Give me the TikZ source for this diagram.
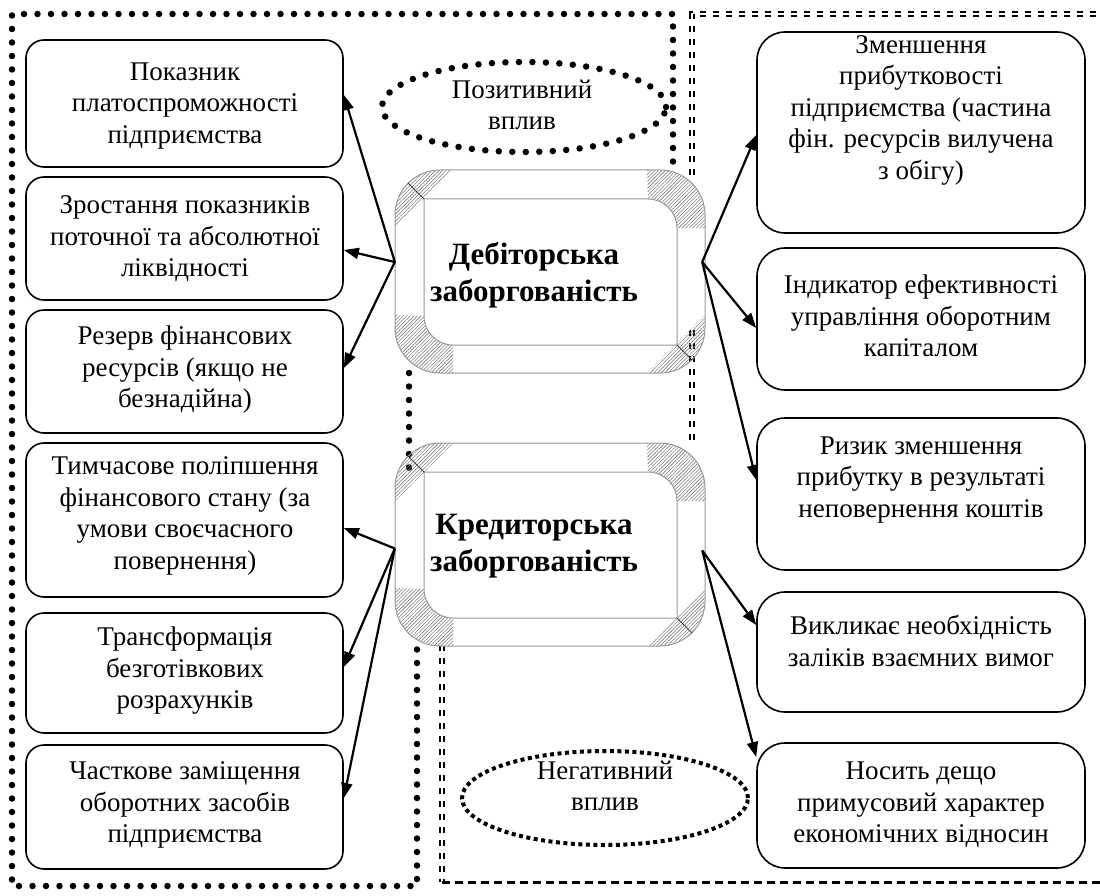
\documentclass[tikz,border=0pt]{standalone}
\usepackage{fontspec}
\setmainfont{Liberation Serif}
\usetikzlibrary{arrows.meta,patterns.meta,shapes.geometric}
\tikzset{
  lbox/.style={draw, line width=1.6pt, rounded corners=18pt, minimum width=317pt, inner sep=0pt},
  rbox/.style={draw, line width=1.6pt, rounded corners=28pt, minimum width=328pt, inner sep=0pt},
  txt/.style={align=center, font=\fontsize{27}{31.5}\selectfont, inner sep=0pt},
  btxt/.style={align=center, font=\fontsize{31}{37}\selectfont\bfseries, inner sep=0pt},
  arr/.style={line width=2.2pt, -{Triangle[length=15pt,width=11pt]}},
  rdots/.style={line width=6.5pt, line cap=round, dash pattern=on 0pt off 13.5pt},
  sqdots/.style={line width=4pt, dash pattern=on 4pt off 3.5pt},
  dbldash/.style={double, double distance=2.2pt, line width=2pt, dash pattern=on 6pt off 7pt},
  sgldash/.style={line width=3pt, dash pattern=on 8pt off 5pt},
  hatch/.style={pattern={Lines[angle=45,distance=2.5pt,line width=0.6pt]}, pattern color=gray},
  bevline/.style={draw=gray!80, line width=1pt},
  anchorbox/.style={minimum width=310pt, minimum height=203pt, inner sep=0pt}
}
\newcommand{\bevelbox}[1]{%
\begin{scope}[shift={#1}]
  \fill[white] (58,0) -- (265,0) .. controls (289.9,0) and (310,20.1) .. (310,45) -- (310,145) -- (252,203) -- (45,203) .. controls (20.1,203) and (0,182.9) .. (0,158) -- (0,58) -- cycle;
  \fill[hatch] (0,58) -- (0,45) .. controls (0,20.1) and (20.1,0) .. (45,0) -- (58,0) -- cycle;
  \fill[hatch] (310,145) -- (310,158) .. controls (310,182.9) and (289.9,203) .. (265,203) -- (252,203) -- cycle;
  \fill[hatch] (252,0) -- (265,0) .. controls (289.9,0) and (310,20.1) .. (310,45) -- (310,58) -- (282,58) .. controls (282,42) and (269,29) .. (253,29) -- cycle;
  \fill[hatch] (0,145) -- (0,158) .. controls (0,182.9) and (20.1,203) .. (45,203) -- (58,203) -- (58,175) .. controls (42,175) and (29,162) .. (29,146) -- cycle;
  \draw[bevline] (45,0) -- (265,0) .. controls (289.9,0) and (310,20.1) .. (310,45) -- (310,158) .. controls (310,182.9) and (289.9,203) .. (265,203) -- (45,203) .. controls (20.1,203) and (0,182.9) .. (0,158) -- (0,45) .. controls (0,20.1) and (20.1,0) .. (45,0) -- cycle;
  \draw[bevline] (29,29) -- (253,29) .. controls (269,29) and (282,42) .. (282,58) -- (282,175) -- (58,175) .. controls (42,175) and (29,162) .. (29,146) -- cycle;
  \draw[gray!50!black, line width=1pt] (29,29) -- (13,13);
  \draw[gray!50!black, line width=1pt] (282,175) -- (297,190);
\end{scope}}
\begin{document}
\begin{tikzpicture}[x=1pt, y=-1pt]
\useasboundingbox (0,0) rectangle (1100,896);
% region borders
\draw[rdots] (673,175) -- (673,14) -- (12,14) -- (12,886) -- (417,886) -- (417,640);
\draw[rdots] (409,373) -- (409,470);
\draw[dbldash] (692,175) -- (692,14) -- (1110,14);
\draw[dbldash] (692,330) -- (692,443);
\draw[dbldash] (442,645) -- (442,882);
\draw[sgldash] (442,882) -- (1110,882);
% ellipses
\draw[rdots] (524,107) ellipse [x radius=142pt, y radius=45pt];
\node[txt] (Pt) at (522,105) {Позитивний\\вплив};
\draw[sqdots] (605,798) ellipse [x radius=143pt, y radius=47pt];
\node[txt] (Nt) at (605,786) {Негативний\\вплив};
% left boxes
\node[lbox, minimum height=127pt] (L1) at (184.5,103.5) {};
\node[lbox, minimum height=123pt] (L2) at (184.5,238.5) {};
\node[lbox, minimum height=123pt] (L3) at (184.5,371.5) {};
\node[lbox, minimum height=154pt] (L4) at (184.5,520) {};
\node[lbox, minimum height=120pt] (L5) at (184.5,673) {};
\node[lbox, minimum height=124pt] (L6) at (184.5,807) {};
\node[txt] (L1t) at (185,106) {Показник\\платоспроможності\\підприємства};
\node[txt] (L2t) at (185,239) {Зростання показників\\поточної та абсолютної\\ліквідності};
\node[txt] (L3t) at (185,370) {Резерв фінансових\\ресурсів (якщо не\\безнадійна)};
\node[txt] (L4t) at (185,516) {Тимчасове поліпшення\\фінансового стану (за\\умови своєчасного\\повернення)};
\node[txt] (L5t) at (185,671) {Трансформація\\безготівкових\\розрахунків};
\node[txt] (L6t) at (185,805) {Часткове заміщення\\оборотних засобів\\підприємства};
% right boxes
\node[rbox, minimum height=201pt] (R1) at (921,132.5) {};
\node[rbox, minimum height=142pt] (R2) at (921,319) {};
\node[rbox, minimum height=152pt] (R3) at (921,494) {};
\node[rbox, minimum height=120pt] (R4) at (921,652) {};
\node[rbox, minimum height=125pt] (R5) at (921,805.5) {};
\node[txt] (R1t) at (921,110) {Зменшення\\прибутковості\\підприємства (частина\\фін. ресурсів вилучена\\з обігу)};
\node[txt] (R2t) at (921,316) {Індикатор ефективності\\управління оборотним\\капіталом};
\node[txt] (R3t) at (921,480) {Ризик зменшення\\прибутку в результаті\\неповернення коштів};
\node[txt] (R4t) at (921,641) {Викликає необхідність\\заліків взаємних вимог};
\node[txt] (R5t) at (921,805) {Носить дещо\\примусовий характер\\економічних відносин};
% central bevel boxes
\bevelbox{(395,170)}
\node[anchorbox] (D) at (550,271.5) {};
\node[btxt] (Dt) at (534,275) {Дебіторська\\заборгованість};
\bevelbox{(395,443)}
\node[anchorbox] (K) at (550,544.5) {};
\node[btxt] (Kt) at (534,546) {Кредиторська\\заборгованість};
% arrows
\draw[arr] ([yshift=9.5pt]D.west) -- ([yshift=8.5pt]L1.east);
\draw[arr] ([yshift=9.5pt]D.west) -- ([yshift=-11.5pt]L2.east);
\draw[arr] ([yshift=9.5pt]D.west) -- ([yshift=3.5pt]L3.east);
\draw[arr] ([yshift=-4pt]K.west) -- ([yshift=-8pt]L4.east);
\draw[arr] ([yshift=-4pt]K.west) -- ([yshift=6pt]L5.east);
\draw[arr] ([yshift=-4pt]K.west) -- ([yshift=9pt]L6.east);
\draw[arr] ([xshift=-3pt,yshift=9.5pt]D.east) -- ([yshift=-2.5pt]R1.west);
\draw[arr] ([xshift=-3pt,yshift=9.5pt]D.east) -- ([yshift=-9pt]R2.west);
\draw[arr] ([xshift=-3pt,yshift=9.5pt]D.east) -- ([yshift=14pt]R3.west);
\draw[arr] ([xshift=-3pt,yshift=-6pt]K.east) -- ([yshift=27pt]R4.west);
\draw[arr] ([xshift=-3pt,yshift=-6pt]K.east) -- ([yshift=48.5pt]R5.west);
\end{tikzpicture}
\end{document}
